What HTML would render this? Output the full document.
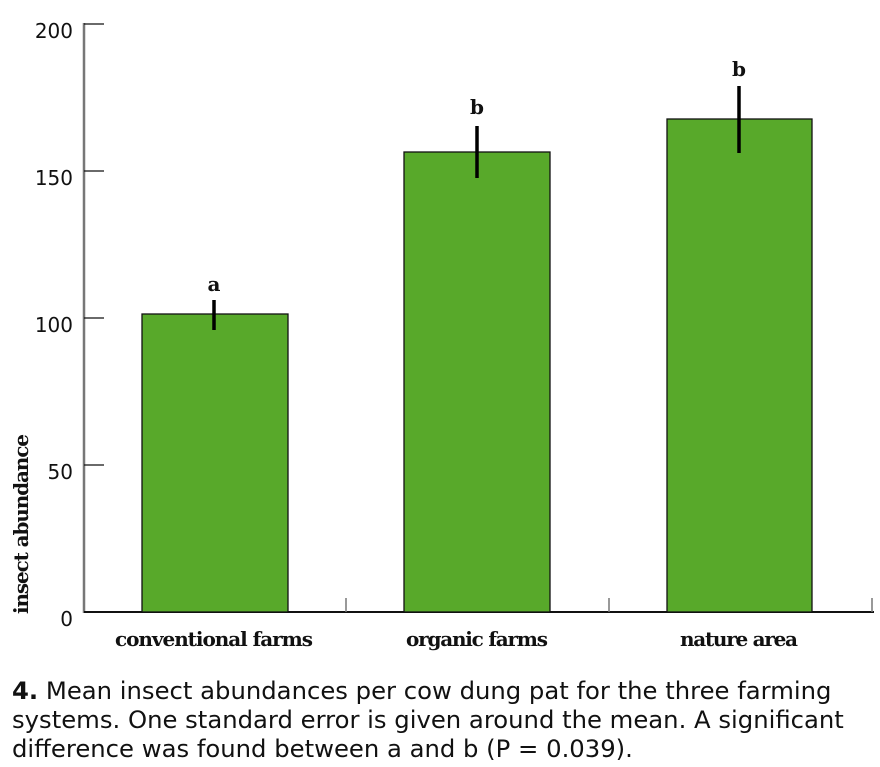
<!DOCTYPE html>
<html><head><meta charset="utf-8"><style>
body{margin:0;background:#fff;width:880px;height:767px;overflow:hidden}
.cap{position:absolute;left:12px;top:676px;white-space:nowrap;font-family:"DejaVu Sans","Liberation Sans",sans-serif;font-size:24.3px;line-height:29px;color:#111}
</style></head><body>
<svg width="880" height="767" style="position:absolute;left:0;top:0">
<g stroke="#777" stroke-width="2.5" fill="none"><line x1="84" y1="23" x2="84" y2="613"/></g>
<g stroke="#111" stroke-width="1.3">
<line x1="84" y1="24" x2="104" y2="24"/><line x1="84" y1="171" x2="104" y2="171"/><line x1="84" y1="318" x2="104" y2="318"/><line x1="84" y1="465" x2="104" y2="465"/>
<line x1="84" y1="612" x2="874" y2="612" stroke-width="2"/>
</g>
<g stroke="#777" stroke-width="1.5"><line x1="346" y1="598" x2="346" y2="612"/><line x1="609" y1="598" x2="609" y2="612"/><line x1="872" y1="598" x2="872" y2="612"/></g>
<g fill="#58a92a" stroke="#111" stroke-width="1.3">
<rect x="142" y="314" width="146" height="298"/>
<rect x="404" y="152" width="146" height="460"/>
<rect x="667" y="119" width="145" height="493"/>
</g>
<g stroke="#000" stroke-width="3.5"><line x1="214" y1="300" x2="214" y2="330"/><line x1="477" y1="126" x2="477" y2="178"/><line x1="739" y1="86" x2="739" y2="153"/></g>
<g font-family="DejaVu Sans,Liberation Sans,sans-serif" font-size="20" fill="#111" text-anchor="end">
<text x="73" y="38">200</text><text x="73" y="185">150</text><text x="73" y="332">100</text><text x="73" y="479">50</text><text x="73" y="626">0</text>
</g>
<g font-family="DejaVu Serif,Liberation Serif,serif" font-weight="bold" font-size="20" fill="#111" text-anchor="middle">
<text x="214" y="646" textLength="198">conventional farms</text><text x="477" y="646" textLength="142">organic farms</text><text x="739" y="646" textLength="118">nature area</text>
<text x="214" y="291">a</text><text x="477" y="114">b</text><text x="739" y="76">b</text>
<text transform="translate(28,524) rotate(-90)" textLength="180">insect abundance</text>
</g>
</svg>
<div class="cap"><b>4.</b> Mean insect abundances per cow dung pat for the three farming<br>systems. One standard error is given around the mean. A significant<br>difference was found between a and b (P = 0.039).</div>
</body></html>
